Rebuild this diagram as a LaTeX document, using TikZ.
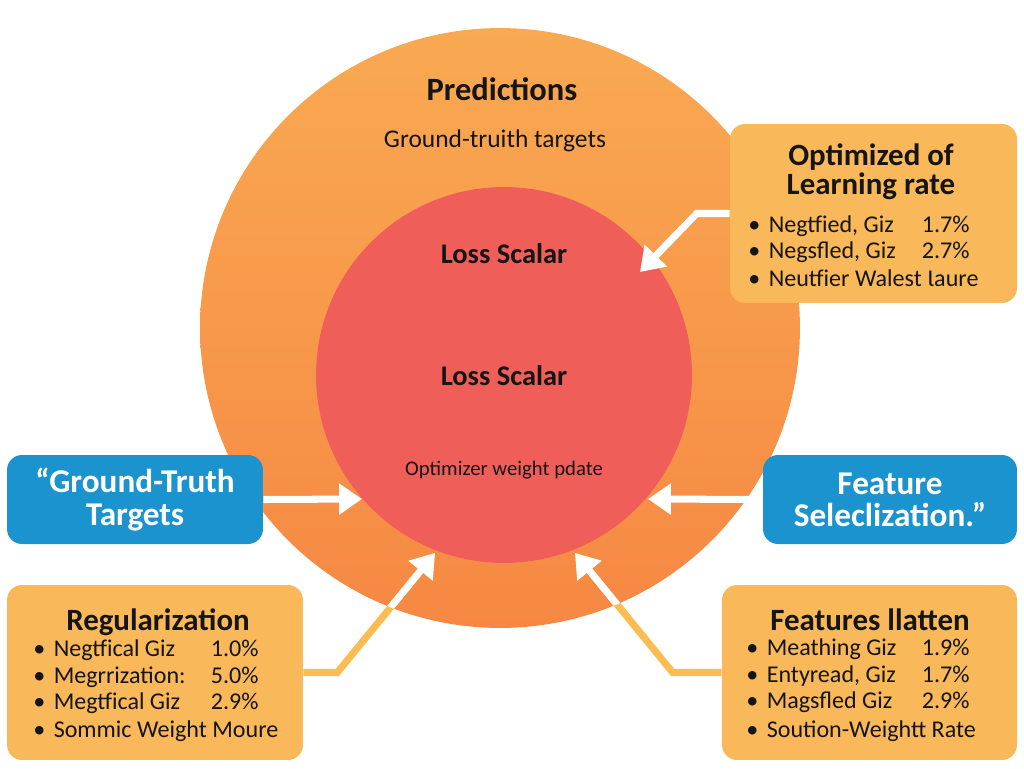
\documentclass[tikz,border=0pt]{standalone}
\usepackage{fontspec}
\setmainfont{Carlito}
\usetikzlibrary{arrows.meta}
\definecolor{outertop}{HTML}{F9A952}
\definecolor{outerbot}{HTML}{F68843}
\definecolor{innerred}{HTML}{EF5E59}
\definecolor{panelfill}{HTML}{F9B85A}
\definecolor{bluefill}{HTML}{1A93CF}
\definecolor{linkyellow}{HTML}{FBBD52}
\definecolor{ink}{HTML}{151515}
\tikzset{
  panel/.style={rounded corners=0.3cm, fill=panelfill},
  bluebox/.style={rounded corners=0.3cm, fill=bluefill, text=white, align=center,
    font=\bfseries\fontsize{18.9}{18.3}\selectfont},
  warrow/.style={white, line width=4pt, -{Triangle[length=13pt,width=17pt]}},
  ylink/.style={linkyellow, line width=4pt, -{Triangle[length=13pt,width=17pt]}},
  boxtitle/.style={anchor=base, text=ink, font=\bfseries\fontsize{17.6}{17.6}\selectfont},
  row/.style={anchor=base west, inner sep=0, text=ink, font=\fontsize{13.7}{14}\selectfont},
  pct/.style={anchor=base east, inner sep=0, text=ink, font=\fontsize{13.7}{14}\selectfont},
  losslabel/.style={anchor=base, text=ink, font=\bfseries\fontsize{16.2}{16.2}\selectfont}
}
\newcommand{\bul}{\textbullet\hspace{0.35em}}
\begin{document}
\begin{tikzpicture}[x=0.02cm,y=-0.02cm]
\useasboundingbox (0,0) rectangle (1024,768);

\node[circle, inner sep=0, minimum size=12cm, top color=outertop, bottom color=outerbot] (outer) at (500,328) {};
\node[circle, inner sep=0, minimum size=7.52cm, fill=innerred] (inner) at (504,375) {};

\node[anchor=base, text=ink, font=\bfseries\fontsize{18.5}{18.5}\selectfont] (pred) at (502,100) {Predictions};
\node[anchor=base, text=ink, font=\fontsize{14.5}{14.5}\selectfont] (truth) at (495,147) {Ground-truith targets};
\node[losslabel] (loss1) at (504,263) {Loss Scalar};
\node[losslabel] (loss2) at (504,385) {Loss Scalar};
\node[anchor=base, text=ink, font=\fontsize{11.8}{11.8}\selectfont] (update) at (504,475) {Optimizer weight pdate};

\coordinate (ltip) at (362,499); \coordinate (rtip) at (648,499);
\coordinate (otip) at (640,272);
\coordinate (regtip) at (435,553); \coordinate (feattip) at (575,553);

% boxes
\node[panel, minimum width=5.74cm, minimum height=3.58cm] (opt) at (873.5,213.5) {};
\node[bluebox, minimum width=5.12cm, minimum height=1.78cm] (gt) at (135,499.5) {“Ground-Truth\\Targets};
\node[bluebox, minimum width=5.08cm, minimum height=1.78cm] (fs) at (890,499.5) {Feature\\Seleclization.”};
\node[panel, minimum width=5.92cm, minimum height=3.5cm] (reg) at (155,672.5) {};
\node[panel, minimum width=5.9cm, minimum height=3.5cm] (feat) at (869.5,672.5) {};

% connectors
\draw[warrow] (gt.east) -- (ltip);
\draw[warrow] (fs.west) -- (rtip);
\draw[warrow] (opt.west) -- ++(-33,0) -- (otip);
\draw[ylink] (reg.east) -- ++(34,0) -- (regtip);
\draw[ylink] (feat.west) -- ++(-49,0) -- (feattip);
\begin{scope}
  \clip (outer.center) circle (300);
  \draw[warrow] (reg.east) -- ++(34,0) -- (regtip);
  \draw[warrow] (feat.west) -- ++(-49,0) -- (feattip);
\end{scope}

\node[boxtitle] (optt1) at (871,165) {Optimized of};
\node[boxtitle] (optt2) at (871,194) {Learning rate};
\node[row] (o1) at (748,232) {\bul Negtfied, Giz}; \node[pct] (o1p) at (970,232) {1.7\%};
\node[row] (o2) at (748,258) {\bul Negsfled, Giz}; \node[pct] (o2p) at (970,258) {2.7\%};
\node[row] (o3) at (748,286) {\bul Neutfier Walest Ɩaure};

\node[boxtitle] (regt) at (158,630) {Regularization};
\node[row] (r1) at (33,656) {\bul Negtfical Giz}; \node[pct] (r1p) at (259,656) {1.0\%};
\node[row] (r2) at (33,683) {\bul Megrrization:}; \node[pct] (r2p) at (259,683) {5.0\%};
\node[row] (r3) at (33,709) {\bul Megtfical Giz}; \node[pct] (r3p) at (259,709) {2.9\%};
\node[row] (r4) at (33,737) {\bul Sommic Weight Moure};

\node[boxtitle] (featt) at (870,630) {Features llatten};
\node[row] (f1) at (746,655) {\bul Meathing Giz}; \node[pct] (f1p) at (970,655) {1.9\%};
\node[row] (f2) at (746,682) {\bul Entyread, Giz}; \node[pct] (f2p) at (970,682) {1.7\%};
\node[row] (f3) at (746,708) {\bul Magsfled Giz}; \node[pct] (f3p) at (970,708) {2.9\%};
\node[row] (f4) at (746,737) {\bul Soution-Weightt Rate};
\end{tikzpicture}
\end{document}
